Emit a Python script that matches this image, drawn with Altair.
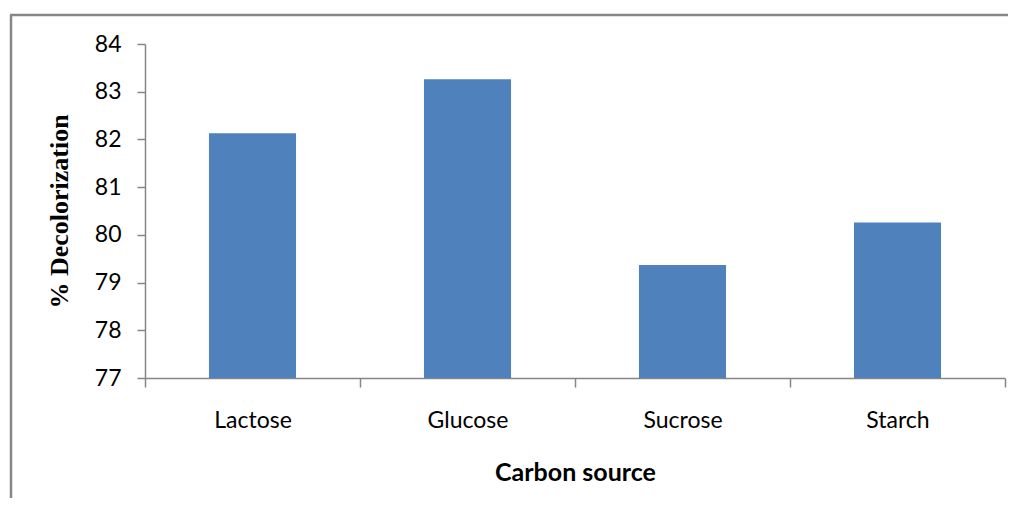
import altair as alt
import pandas as pd

categories = ["Lactose", "Glucose", "Sucrose", "Starch"]
values = [82.13, 83.26, 79.37, 80.26]

df = pd.DataFrame({"source": categories, "value": values})

W, H = 860, 334

bars = alt.Chart(df).mark_bar(color="#4F81BD", width=alt.RelativeBandSize(0.405)).encode(
    x=alt.X("source:N", sort=categories,
            scale=alt.Scale(paddingInner=0, paddingOuter=0),
            axis=alt.Axis(title="Carbon source", labelAngle=0, tickBand="extent",
                          labelFont="Lato", labelFontSize=23, labelColor="#000000",
                          labelPadding=22, tickSize=9, tickColor="#868686",
                          domainColor="#868686", domainWidth=1.5, tickWidth=1.5,
                          titleFont="Lato", titleFontSize=25, titleFontWeight="bold",
                          titleColor="#000000", titlePadding=28)),
    y=alt.Y("value:Q", scale=alt.Scale(domain=[77, 84], nice=False, zero=False),
            axis=alt.Axis(title="% Decolorization", values=[77, 78, 79, 80, 81, 82, 83, 84],
                          grid=False, labelFont="Lato", labelFontSize=23,
                          labelColor="#000000", labelPadding=16, tickSize=8,
                          tickColor="#868686", domainColor="#868686", domainWidth=1.5,
                          tickWidth=1.5, titleFont="Liberation Serif", titleFontSize=26,
                          titleFontWeight="bold", titleColor="#000000", titlePadding=22)),
    y2=alt.datum(77),
)

frame_left = alt.Chart(pd.DataFrame({"a": [0]})).mark_rule(
    color="#878787", strokeWidth=2.5, clip=False
).encode(x=alt.value(-134), y=alt.value(-29), y2=alt.value(480))

frame_top = alt.Chart(pd.DataFrame({"a": [0]})).mark_rule(
    color="#878787", strokeWidth=2.5, clip=False
).encode(x=alt.value(-135), x2=alt.value(890), y=alt.value(-29))

chart = alt.layer(frame_left, frame_top, bars).properties(
    width=W, height=H,
    autosize=alt.AutoSizeParams(type="none"),
    padding={"left": 137, "top": 36, "right": 3, "bottom": 120},
).configure(background="#ffffff").configure_view(stroke=None)

chart.save("out.html", embed_options={"renderer": "svg", "actions": False})
